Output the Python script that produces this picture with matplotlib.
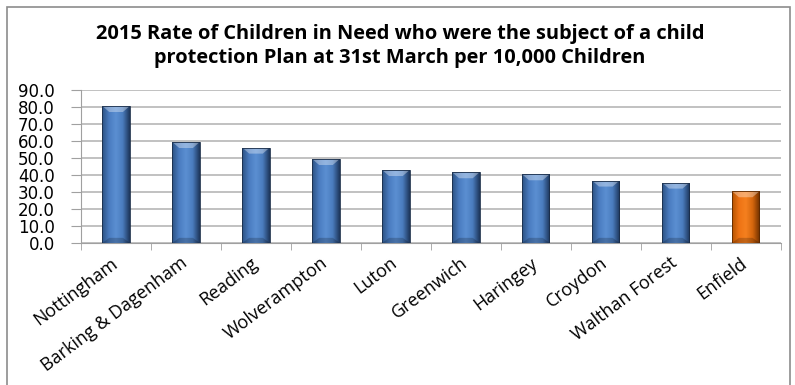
import numpy as np
import matplotlib.pyplot as plt
import matplotlib.transforms as mtransforms
from matplotlib.colors import LinearSegmentedColormap
from matplotlib.patches import Rectangle

# Data
authorities = ['Nottingham', 'Barking & Dagenham', 'Reading', 'Wolverampton', 'Luton',
               'Greenwich', 'Haringey', 'Croydon', 'Walthan Forest', 'Enfield']
rates = [80.6, 59.4, 56.1, 49.4, 42.9, 41.6, 40.4, 36.7, 35.5, 30.4]
highlight = 'Enfield'

title = ('2015 Rate of Children in Need who were the subject of a child\n'
         'protection Plan at 31st March per 10,000 Children')

fig = plt.figure(figsize=(7.95, 3.85), dpi=100)
ax = fig.add_axes([0.102, 0.369, 0.880, 0.397])

# outer chart frame
fig.patches.append(Rectangle((0.009, -0.01), 0.985, 0.992, transform=fig.transFigure,
                             fill=False, edgecolor='#8c8c8c', linewidth=1.2))

x = np.arange(len(authorities))
bars = ax.bar(x, rates, width=0.39, color='none', edgecolor='none', zorder=3)

ax.set_xlim(-0.5, len(authorities) - 0.5)
ax.set_ylim(0, 90)

blue = LinearSegmentedColormap.from_list('b', ['#2c5283', '#4a7cc0', '#5b8fd2', '#4a7cbd', '#1d355a'])
orange = LinearSegmentedColormap.from_list('o', ['#b55300', '#ee7314', '#f5801f', '#d4650c', '#6e3000'])
grad = np.linspace(0, 1, 64).reshape(1, -1)

for bar, name in zip(bars, authorities):
    x0, w, h = bar.get_x(), bar.get_width(), bar.get_height()
    cmap = orange if name == highlight else blue
    im = ax.imshow(grad, cmap=cmap, aspect='auto', extent=(x0, x0 + w, 0, h),
                   zorder=3, interpolation='bicubic')
    im.set_clip_path(bar)
    # lighter bevel at the top, darker at the bottom
    ax.fill([x0, x0 + w, x0 + w * 0.75, x0 + w * 0.25], [h, h, h - 3.5, h - 3.5],
            color='white', alpha=0.35, zorder=4, linewidth=0)
    ax.fill([x0, x0 + w, x0 + w * 0.75, x0 + w * 0.25], [0, 0, 3, 3],
            color='black', alpha=0.2, zorder=4, linewidth=0)
    ax.add_patch(Rectangle((x0, 0), w, h, fill=False, edgecolor='#1a2d48' if name != highlight else '#5a2800',
                           linewidth=0.6, zorder=5))

ax.set_xlim(-0.5, len(authorities) - 0.5)
ax.set_ylim(0, 90)
ax.set_yticks(np.arange(0, 91, 10))
ax.set_yticklabels([f'{v:.1f}' for v in np.arange(0, 91, 10)], fontsize=12)
ax.tick_params(axis='y', length=7, color='#a0a0a0', pad=12)
ax.yaxis.grid(True, color='#b0b0b0', linewidth=1.1, zorder=0)
ax.set_axisbelow(True)

ax.set_xticks(x)
ax.set_xticklabels(authorities, rotation=37, ha='right', rotation_mode='anchor',
                   fontsize=13, family='Open Sans')
ax.tick_params(axis='x', length=0, pad=8)
shift = mtransforms.ScaledTranslation(-6 / 100, 0, fig.dpi_scale_trans)
for lbl in ax.get_xticklabels():
    lbl.set_transform(lbl.get_transform() + shift)
ax.set_xticks(np.arange(-0.5, len(authorities)), minor=True)
ax.tick_params(axis='x', which='minor', length=5, color='#a0a0a0')

for side in ['top', 'right']:
    ax.spines[side].set_visible(False)
ax.spines['left'].set_color('#a0a0a0')
ax.spines['bottom'].set_color('#a0a0a0')

fig.text(0.503, 0.881, title, ha='center', va='center', fontsize=14.4,
         fontweight='bold', family='Open Sans', linespacing=1.25)

fig.savefig('out.png', dpi=100)
